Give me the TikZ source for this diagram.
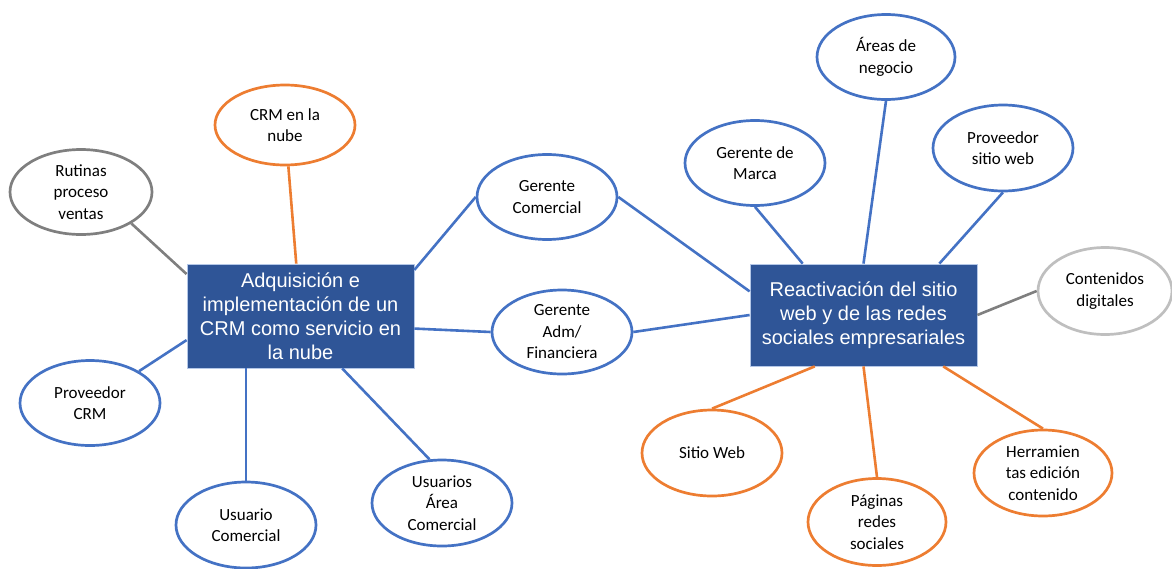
\documentclass[tikz,border=0pt]{standalone}
\usepackage{fontspec}
\setmainfont{Carlito}
\newfontfamily\boxfont{Liberation Sans}
\usetikzlibrary{shapes.geometric,calc}
\definecolor{cblue}{HTML}{4472C4}
\definecolor{corange}{HTML}{ED7D31}
\definecolor{cgray}{HTML}{7F7F7F}
\definecolor{clight}{HTML}{BFBFBF}
\definecolor{cbox}{HTML}{2F5597}
\definecolor{cboxline}{HTML}{B4C7E7}
\begin{document}
\begin{tikzpicture}[x=1pt,y=-1pt,
  topic/.style={draw=cboxline,line width=0.8pt,fill=cbox,text=white,
    minimum width=227pt,inner sep=0pt,align=center,
    font=\boxfont\fontsize{20}{24}\selectfont},
  bubble/.style={ellipse,draw=#1,line width=2.7pt,fill=white,inner sep=0pt,
    minimum width=140pt,minimum height=85pt,align=center,
    font=\fontsize{17}{21.5}\selectfont},
  link/.style={draw=#1,line width=2.6pt}]
\useasboundingbox (0,0) rectangle (1172,568);

% central topics
\node[topic,minimum height=104pt] (L) at (300.5,316) {Adquisición e\\implementación de un\\CRM como servicio en\\la nube};
\node[topic,minimum height=102pt] (R) at (863.5,315) {Reactivación del sitio\\web y de las redes\\sociales empresariales};

% bubbles around the CRM topic
\node[bubble=corange,minimum height=80pt] (crm) at (285,125) {CRM en la\\nube};
\node[bubble=cgray,minimum width=142pt] (rut) at (81,192) {Rutinas\\proceso\\ventas};
\node[bubble=cblue] (provcrm) at (90,403) {Proveedor\\CRM};
\node[bubble=cblue,minimum height=86pt] (usuc) at (246,525) {Usuario\\Comercial};
\node[bubble=cblue,minimum height=86pt] (usua) at (442,503) {Usuarios\\Área\\Comercial};

% shared bubbles
\node[bubble=cblue] (gc) at (547,197) {Gerente\\Comercial};
\node[bubble=cblue,minimum height=84pt] (ga) at (562,332) {Gerente\\Adm/\\Financiera};

% bubbles around the web topic
\node[bubble=cblue] (gm) at (755,163) {Gerente de\\Marca};
\node[bubble=cblue,minimum width=138pt] (an) at (886,57) {Áreas de\\negocio};
\node[bubble=cblue,minimum height=86pt] (pw) at (1003,148) {Proveedor\\sitio web};
\node[bubble=clight,minimum width=134pt,minimum height=87pt] (cd) at (1105,291) {Contenidos\\digitales};
\node[bubble=corange,minimum height=86pt] (sw) at (712,453) {Sitio Web};
\node[bubble=corange,minimum width=138pt,minimum height=87pt] (pr) at (877,522) {Páginas\\redes\\sociales};
\node[bubble=corange,minimum width=138pt,minimum height=86pt] (he) at (1043,473) {Herramien\\tas edición\\contenido};

% links of the CRM topic
\draw[link=corange] (crm) -- (L);
\draw[link=cgray] (rut.-32) -- ($(L.north west)!0.1!(L.south west)$);
\draw[link=cblue] (provcrm.33) -- ($(L.north west)!0.73!(L.south west)$);
\draw[link=cblue] (usuc.north) -- (usuc.north |- L.south);
\draw[link=cblue] (usua.106) -- ($(L.south west)!0.683!(L.south east)$);
\draw[link=cblue] ($(L.north east)!0.06!(L.south east)$) -- (gc.west);
\draw[link=cblue] ($(L.north east)!0.62!(L.south east)$) -- (ga.west);

% links of the web topic
\draw[link=cblue] (gc.east) -- ($(R.north west)!0.27!(R.south west)$);
\draw[link=cblue] (ga.east) -- (R.west);
\draw[link=cblue] (gm.south) -- ($(R.north west)!0.233!(R.north east)$);
\draw[link=cblue] (an.south) -- (R.north);
\draw[link=cblue] (pw.south) -- ($(R.north west)!0.833!(R.north east)$);
\draw[link=cgray] (R.east) -- (cd.west);
\draw[link=corange] ($(R.south west)!0.286!(R.south east)$) -- (sw.north);
\draw[link=corange] (R.south) -- (pr.north);
\draw[link=corange] ($(R.south west)!0.85!(R.south east)$) -- (he.north);
\end{tikzpicture}
\end{document}
